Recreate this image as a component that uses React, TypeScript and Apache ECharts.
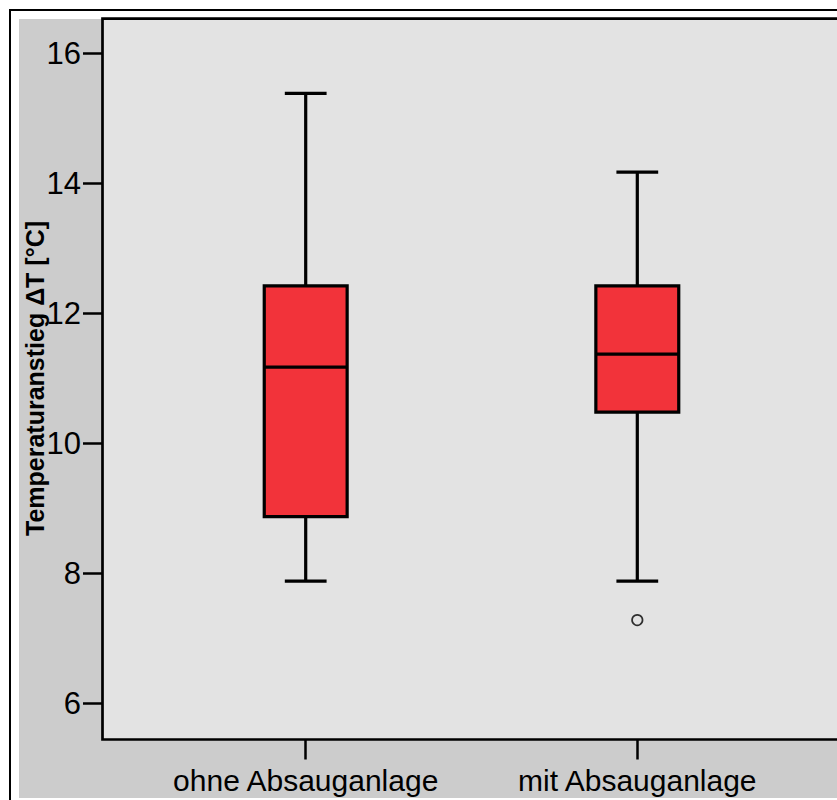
import React, { useEffect, useRef } from "react";
import * as echarts from "echarts";

const categories = ["ohne Absauganlage", "mit Absauganlage"];
const whiskerLow = [7.88, 7.88];
const quartile1 = [8.87, 10.48];
const median = [11.17, 11.37];
const quartile3 = [12.42, 12.42];
const whiskerHigh = [15.38, 14.17];
const outlierCategory = [1];
const outlierValue = [7.28];
const yTicks = [6, 8, 10, 12, 14, 16];
const yTitle = "Temperaturanstieg ΔT [°C]";

const FONT = "'Liberation Sans', Arial, Helvetica, sans-serif";

export default function App() {
  const ref = useRef<HTMLDivElement>(null);
  useEffect(() => {
    if (!ref.current) return;
    const chart = echarts.init(ref.current, undefined, { renderer: "svg" });
    const boxData = categories.map((_, i) => [
      i,
      whiskerLow[i],
      quartile1[i],
      median[i],
      quartile3[i],
      whiskerHigh[i],
    ]);
    const outlierData = outlierCategory.map((c, i) => [c, outlierValue[i]]);
    chart.setOption({
      animation: false,
      backgroundColor: "#ffffff",
      graphic: {
        elements: [
          {
            type: "rect",
            z: -9,
            shape: { x: 10, y: 10, width: 900, height: 900 },
            style: { fill: "#ffffff", stroke: "#000000", lineWidth: 2 },
          },
          {
            type: "rect",
            z: -8,
            shape: { x: 19, y: 19, width: 900, height: 779 },
            style: { fill: "#cccccc" },
          },
          {
            type: "rect",
            z: -5,
            shape: { x: 102.5, y: 18.7, width: 900, height: 720.8 },
            style: { fill: "#e3e3e3", stroke: "#000000", lineWidth: 2.7 },
          },
          {
            type: "text",
            z: 5,
            x: 34.5,
            y: 378.5,
            rotation: Math.PI / 2,
            style: {
              text: yTitle,
              fontSize: 25,
              fontWeight: "bold",
              fontFamily: FONT,
              fill: "#000",
              align: "center",
              verticalAlign: "middle",
            },
          },
        ],
      },
      grid: { left: 139.9, right: 33.9, top: 18.7, bottom: 60.5 },
      xAxis: {
        type: "category",
        data: categories,
        axisLine: { show: false },
        splitLine: { show: false },
        axisTick: {
          show: true,
          alignWithLabel: true,
          length: 20,
          lineStyle: { color: "#000", width: 2.5 },
        },
        axisLabel: {
          interval: 0,
          hideOverlap: false,
          fontSize: 30,
          color: "#000",
          margin: 26,
          fontFamily: FONT,
        },
      },
      yAxis: {
        type: "value",
        min: 5.443,
        max: 16.53,
        offset: 37.4,
        axisLine: { show: false },
        splitLine: { show: false },
        axisTick: {
          show: true,
          length: 19.5,
          customValues: yTicks,
          lineStyle: { color: "#000", width: 2.5 },
        },
        axisLabel: {
          customValues: yTicks,
          fontSize: 31,
          color: "#000",
          margin: 21.5,
          fontFamily: FONT,
        },
      },
      series: [
        {
          type: "custom",
          data: boxData,
          encode: { x: 0, y: [1, 2, 3, 4, 5] },
          renderItem: (params: any, api: any) => {
            const c = api.value(0);
            const lo = api.coord([c, api.value(1)]);
            const q1 = api.coord([c, api.value(2)]);
            const md = api.coord([c, api.value(3)]);
            const q3 = api.coord([c, api.value(4)]);
            const hi = api.coord([c, api.value(5)]);
            const band = api.size([1, 0])[0];
            const bw = band * 0.25;
            const cw = band * 0.126;
            const cx = lo[0];
            const ls = { stroke: "#000", lineWidth: 3.2, fill: "none" };
            return {
              type: "group",
              children: [
                { type: "line", shape: { x1: cx, y1: hi[1], x2: cx, y2: q3[1] }, style: ls },
                { type: "line", shape: { x1: cx, y1: q1[1], x2: cx, y2: lo[1] }, style: ls },
                { type: "line", shape: { x1: cx - cw / 2, y1: hi[1], x2: cx + cw / 2, y2: hi[1] }, style: ls },
                { type: "line", shape: { x1: cx - cw / 2, y1: lo[1], x2: cx + cw / 2, y2: lo[1] }, style: ls },
                {
                  type: "rect",
                  shape: { x: cx - bw / 2, y: q3[1], width: bw, height: q1[1] - q3[1] },
                  style: { fill: "#f2333a", stroke: "#000", lineWidth: 3.2 },
                },
                { type: "line", shape: { x1: cx - bw / 2, y1: md[1], x2: cx + bw / 2, y2: md[1] }, style: ls },
              ],
            };
          },
        },
        {
          type: "scatter",
          data: outlierData,
          symbol: "circle",
          symbolSize: 10.5,
          itemStyle: { color: "rgba(0,0,0,0)", borderColor: "#000", borderWidth: 1.7 },
        },
      ],
    });
    return () => chart.dispose();
  }, []);
  return (
    <div
      ref={ref}
      style={{ position: "absolute", left: 0, top: 0, width: 837, height: 800 }}
    />
  );
}
